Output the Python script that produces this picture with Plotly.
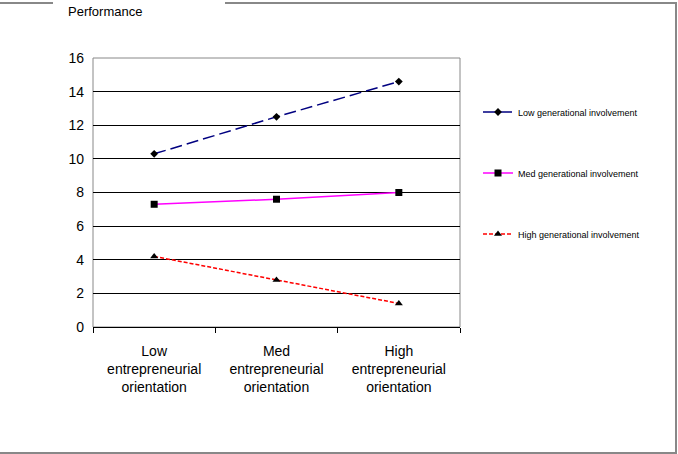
import plotly.graph_objects as go

categories = ["Low<br>entrepreneurial<br>orientation",
              "Med<br>entrepreneurial<br>orientation",
              "High<br>entrepreneurial<br>orientation"]
low_gen = [10.3, 12.5, 14.6]
med_gen = [7.3, 7.6, 8.0]
high_gen = [4.2, 2.8, 1.4]
series_names = ["Low generational involvement",
                "Med generational involvement",
                "High generational involvement"]
y_ticks = [0, 2, 4, 6, 8, 10, 12, 14, 16]

W, H = 678, 454
L, R, T, B = 93, 460, 58, 327

def px(x):
    return (x - L) / (R - L)

def py(y):
    return (B - y) / (B - T)

fig = go.Figure()
fig.add_trace(go.Scatter(x=categories, y=low_gen, name=series_names[0], mode="lines+markers",
                         line=dict(color="#000080", width=1.5, dash="12px,5px"),
                         marker=dict(symbol="diamond", size=6, color="black"),
                         legend="legend"))
fig.add_trace(go.Scatter(x=categories, y=med_gen, name=series_names[1], mode="lines+markers",
                         line=dict(color="#FF00FF", width=1.5),
                         marker=dict(symbol="square", size=7, color="black"),
                         legend="legend2"))
fig.add_trace(go.Scatter(x=categories, y=high_gen, name=series_names[2], mode="lines+markers",
                         line=dict(color="#FF0000", width=1.5, dash="4px,2px"),
                         marker=dict(symbol="triangle-up", size=7, color="black"),
                         legend="legend3"))

legend_common = dict(font=dict(family="Liberation Sans, Arial", size=9, color="#000"),
                     bgcolor="rgba(0,0,0,0)", xanchor="left", yanchor="middle",
                     itemwidth=30)
shapes = [
    # plot frame (gray)
    dict(type="rect", xref="paper", yref="paper", x0=0, x1=1, y0=0, y1=1,
         line=dict(color="#888888", width=1), layer="below"),
    # outer border
    dict(type="line", xref="paper", yref="paper", x0=px(0), x1=px(53), y0=py(3), y1=py(3),
         line=dict(color="#888888", width=2)),
    dict(type="line", xref="paper", yref="paper", x0=px(225), x1=px(677), y0=py(3), y1=py(3),
         line=dict(color="#888888", width=2)),
    dict(type="line", xref="paper", yref="paper", x0=px(676), x1=px(676), y0=py(3), y1=py(453),
         line=dict(color="#888888", width=2)),
    dict(type="line", xref="paper", yref="paper", x0=px(0), x1=px(677), y0=py(453), y1=py(453),
         line=dict(color="#888888", width=2)),
]

fig.update_layout(
    width=W, height=H,
    margin=dict(l=L, r=W - R, t=T, b=H - B),
    paper_bgcolor="white", plot_bgcolor="white",
    font=dict(family="Liberation Sans, Arial", color="#000"),
    showlegend=True,
    legend=dict(x=px(478), y=py(112), **legend_common),
    legend2=dict(x=px(478), y=py(173), **legend_common),
    legend3=dict(x=px(478), y=py(234), **legend_common),
    shapes=shapes,
    annotations=[dict(text="Performance", xref="paper", yref="paper", x=px(66), y=py(11),
                      xanchor="left", yanchor="middle", showarrow=False,
                      font=dict(size=13, color="#000"))],
    xaxis=dict(type="category", range=[-0.5, 2.5], showline=True, linecolor="#000", linewidth=1,
               ticks="outside", tickson="boundaries", ticklen=5, tickcolor="#000",
               showgrid=False, tickfont=dict(size=14), zeroline=False,
               ticklabelstandoff=11),
    yaxis=dict(range=[0, 16], tickvals=y_ticks, showgrid=True, gridcolor="#000", gridwidth=1,
               zeroline=False, showline=False, ticks="", tickfont=dict(size=14),
               ticklabelstandoff=8),
)

fig.write_html("out.html")
